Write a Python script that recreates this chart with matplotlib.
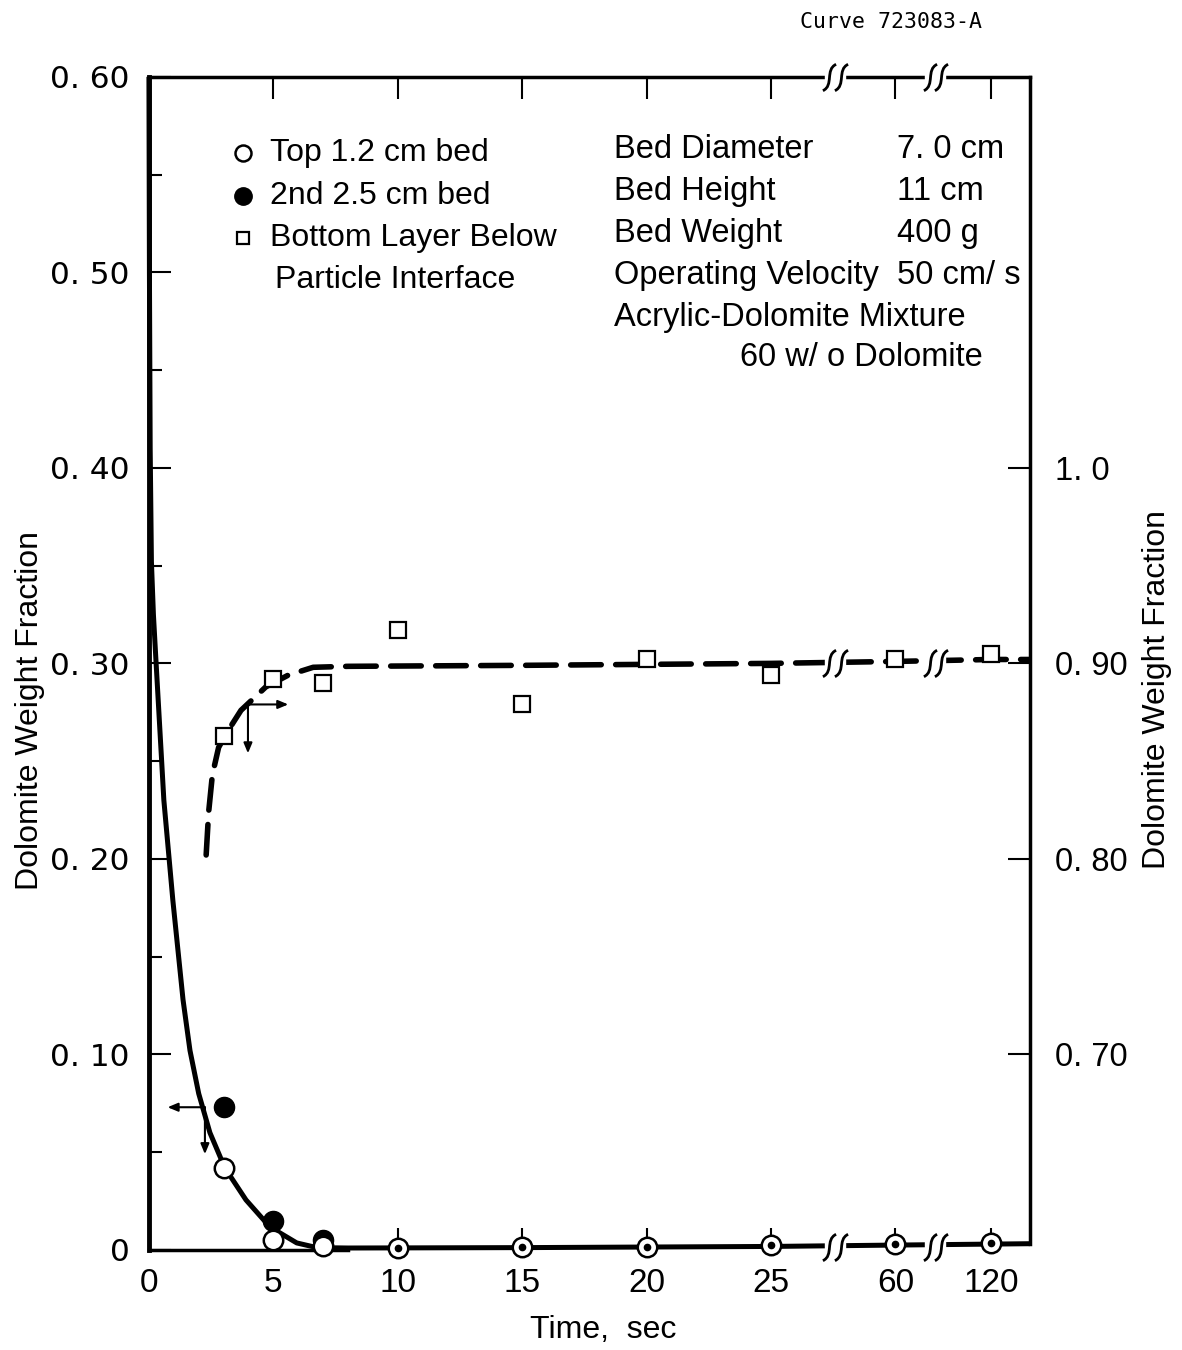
import numpy as np
import matplotlib
matplotlib.use("Agg")
import matplotlib.pyplot as plt
from matplotlib.path import Path
from matplotlib.transforms import ScaledTranslation

# ---------------- data ----------------
time_ticks = [0, 5, 10, 15, 20, 25, 60, 120]
time_tick_labels = ["0", "5", "10", "15", "20", "25", "60", "120"]

t_samples = [3, 5, 7, 10, 15, 20, 25, 60, 120]
top_bed = [0.042, 0.005, 0.002, 0.001, 0.0015, 0.0015, 0.0025, 0.003, 0.0035]
second_bed = [0.073, 0.015, 0.005, 0.001, 0.0015, 0.0015, 0.0025, 0.003, 0.0035]
bottom_layer = [0.863, 0.892, 0.890, 0.917, 0.879, 0.902, 0.894, 0.902, 0.905]

# solid fitted curve (left axis)
solid_t = [0.0, 0.02, 0.05, 0.1, 0.18, 0.28, 0.4, 0.6, 0.96, 1.37, 1.65, 2.0,
           2.45, 3.05, 3.9, 4.86, 5.94, 6.75, 8.0, 15, 25, 60, 120, 144]
solid_y = [0.60, 0.50, 0.41, 0.352, 0.325, 0.302, 0.275, 0.230, 0.179, 0.128,
           0.102, 0.080, 0.060, 0.042, 0.0256, 0.0118, 0.0036, 0.0012, 0.001,
           0.0012, 0.0018, 0.0025, 0.003, 0.0032]

# dashed fitted curve (right axis)
dash_t = [2.3, 2.4, 2.55, 2.8, 3.1, 3.7, 4.7, 5.6, 6.6, 8.0, 15, 25, 60, 120, 144]
dash_y = [0.802, 0.824, 0.843, 0.857, 0.864, 0.876, 0.888, 0.894, 0.898, 0.8985,
          0.899, 0.900, 0.901, 0.902, 0.902]

left_ticks = [0, 0.1, 0.2, 0.3, 0.4, 0.5, 0.6]
left_tick_labels = ["0", "0. 10", "0. 20", "0. 30", "0. 40", "0. 50", "0. 60"]
right_ticks = [0.7, 0.8, 0.9, 1.0]
right_tick_labels = ["0. 70", "0. 80", "0. 90", "1. 0"]

legend_labels = ["Top 1.2 cm bed", "2nd 2.5 cm bed", "Bottom Layer Below",
                 "Particle Interface"]
info_names = ["Bed Diameter", "Bed Height", "Bed Weight", "Operating Velocity"]
info_values = ["7. 0 cm", "11 cm", "400 g", "50 cm/ s"]
info_extra = ["Acrylic-Dolomite Mixture", "60 w/ o Dolomite"]

# ---------------- fonts ----------------
plt.rcParams["font.family"] = ["Liberation Sans", "DejaVu Sans"]

# broken axis mapping
T_BR = [0, 25, 60, 120, 180]
P_BR = [0, 25, 30, 33.85, 37.7]
fwd = lambda t: np.interp(t, T_BR, P_BR)
inv = lambda p: np.interp(p, P_BR, T_BR)

fig = plt.figure(figsize=(11.82, 13.5), dpi=100)
ax = fig.add_axes([0.126, 0.0741, 0.745, 0.869])
ax.set_xscale("function", functions=(fwd, inv))
ax.set_xlim(0, 144)
ax.set_ylim(0, 0.6)

ax2 = ax.twinx()
ax2.set_ylim(0.6, 1.2)

for sp in ax.spines.values():
    sp.set_linewidth(2.5)
ax.spines["left"].set_linewidth(3.5)
ax.spines["bottom"].set_bounds(0, 8)
ax.spines["right"].set_visible(False)
for sp in ax2.spines.values():
    sp.set_visible(False)
ax2.spines["right"].set_visible(True)
ax2.spines["right"].set_linewidth(2.5)
ax2.spines["right"].set_bounds(0.603, 1.2)

ax.set_xticks(time_ticks)
ax.set_xticklabels(time_tick_labels, fontsize=24)
ax.tick_params(axis="x", which="major", direction="in", length=16, width=1.5,
               top=True, pad=13)
ax.xaxis.set_minor_locator(matplotlib.ticker.NullLocator())
ax.set_yticks(left_ticks)
ax.set_yticklabels(left_tick_labels, fontsize=22.5, family="DejaVu Sans")
ax.set_yticks(np.arange(0.05, 0.6, 0.1), minor=True)
ax.tick_params(axis="y", which="major", direction="in", length=16, width=1.5, pad=14)
ax.tick_params(axis="y", which="minor", direction="in", length=9, width=1.5)

ax2.set_yticks(right_ticks)
ax2.set_yticklabels(right_tick_labels, fontsize=23.5)
ax2.tick_params(axis="y", direction="in", length=16, width=1.5, pad=18)

# curves
ax.plot(solid_t, solid_y, color="black", lw=3.6, solid_capstyle="butt",
        solid_joinstyle="round", zorder=3, clip_on=False)
ax2.plot(dash_t, dash_y, color="black", lw=4, linestyle=(0, (5.5, 2.6)),
         dash_capstyle="round", zorder=3)

# markers
t_arr = np.array(t_samples)
sb = np.array(second_bed)
big = t_arr <= 7
ax.plot(t_arr[big], sb[big], "o", ms=14.5, color="black", zorder=4, clip_on=False)
ax.plot(t_samples, top_bed, "o", ms=14, mfc="white", mec="black", mew=1.8,
        zorder=5, clip_on=False)
ax.plot(t_arr[~big], sb[~big], "o", ms=4.5, color="black", zorder=6, clip_on=False)
ax2.plot(t_samples, bottom_layer, "s", ms=11, mfc="white", mec="black", mew=1.6,
         zorder=5)

# arrows
ap = dict(arrowstyle="-|>,head_length=0.6,head_width=0.25", color="black", lw=1.5,
          shrinkA=0, shrinkB=0)
ax.annotate("", xy=(0.75, 0.073), xytext=(2.25, 0.073), arrowprops=ap)
ax.annotate("", xy=(2.25, 0.049), xytext=(2.25, 0.073), arrowprops=ap)
ax2.annotate("", xy=(5.6, 0.879), xytext=(3.98, 0.879), arrowprops=ap)
ax2.annotate("", xy=(3.98, 0.854), xytext=(3.98, 0.879), arrowprops=ap)

# break marks
brk = Path([(-0.5, -1.0), (0.35, -0.6), (-0.35, 0.6), (0.5, 1.0)],
           [Path.MOVETO, Path.CURVE4, Path.CURVE4, Path.CURVE4])
def break_mark(axis, x, y):
    axis.plot([x], [y], "s", ms=15, mfc="white", mec="white", zorder=7, clip_on=False)
    for dx in (-4 / 72, 4 / 72):
        tr = axis.transData + ScaledTranslation(dx, 0, fig.dpi_scale_trans)
        axis.plot([x], [y], marker=brk, ms=19, mfc="none", mec="black", mew=2.0,
                  transform=tr, zorder=8, clip_on=False, linestyle="none")

for xb in (43.0, 85.0):
    break_mark(ax, xb, 0.6)
    break_mark(ax, xb, 0.0015)
    break_mark(ax2, xb, 0.9)

# legend (hand drawn, axes-fraction positions)
T = ax.transAxes
leg_y = [0.9352, 0.8986, 0.8627, 0.8269]
ax.plot([0.1067], [leg_y[0]], "o", ms=11.5, mfc="white", mec="black", mew=1.8,
        transform=T)
ax.plot([0.1067], [leg_y[1]], "o", ms=12.5, color="black", transform=T)
ax.plot([0.1067], [leg_y[2]], "s", ms=8.5, mfc="white", mec="black", mew=1.6,
        transform=T)
for i, s in enumerate(legend_labels):
    ax.text(0.1373 if i < 3 else 0.143, leg_y[i], s, fontsize=23,
            va="center", ha="left", transform=T)

info_y = [0.9378, 0.9019, 0.8662, 0.8303, 0.7945, 0.7604]
for i, (n, v) in enumerate(zip(info_names, info_values)):
    ax.text(0.528, info_y[i], n, fontsize=23.5, va="center", ha="left", transform=T)
    ax.text(0.850, info_y[i], v, fontsize=23.5, va="center", ha="left", transform=T)
ax.text(0.528, info_y[4], info_extra[0], fontsize=23.5, va="center", ha="left",
        transform=T)
ax.text(0.671, info_y[5], info_extra[1], fontsize=23.5, va="center", ha="left",
        transform=T)

# axis labels
fig.text(0.025, 0.474, "Dolomite Weight Fraction", rotation=90, fontsize=23,
         ha="center", va="center")
fig.text(0.979, 0.489, "Dolomite Weight Fraction", rotation=90, fontsize=23,
         ha="center", va="center")
fig.text(0.51, 0.0148, "Time,  sec", fontsize=23, ha="center", va="center")
fig.text(0.754, 0.984, "Curve 723083-A", fontsize=15.5, ha="center", va="center",
         family="DejaVu Sans Mono")

fig.savefig("out.png", dpi=100)
